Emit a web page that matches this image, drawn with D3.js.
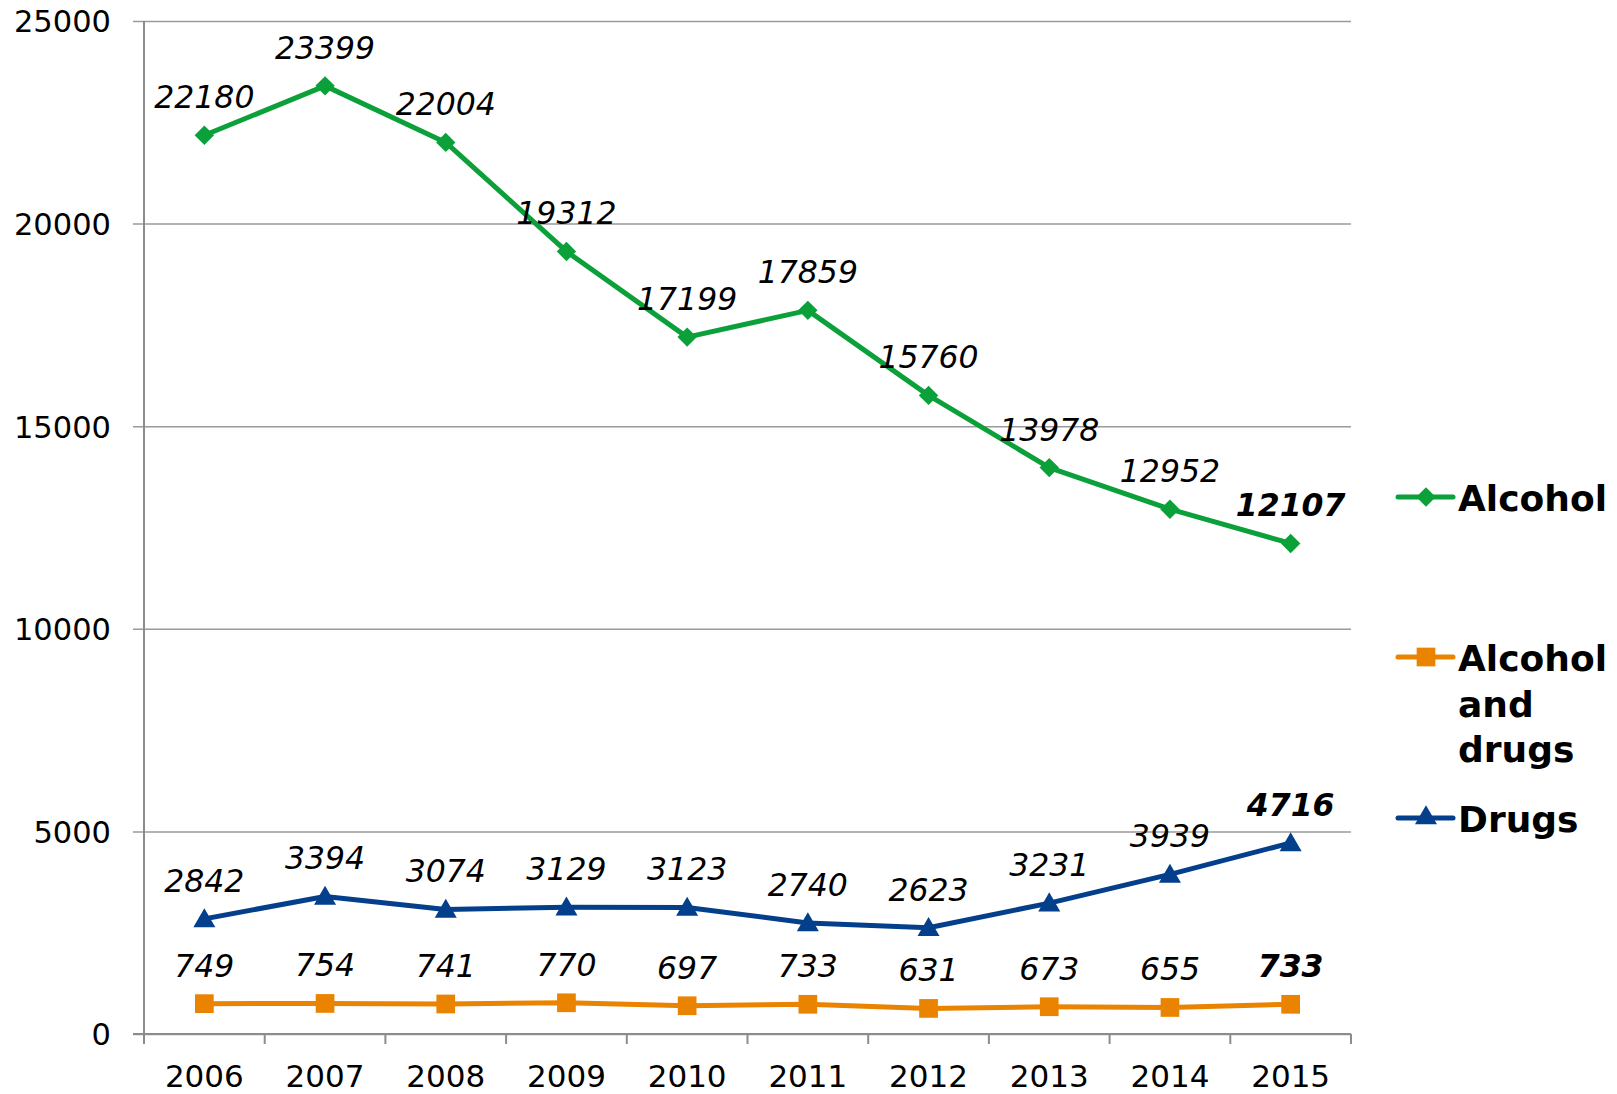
<!DOCTYPE html>
<html>
<head>
<meta charset="utf-8">
<script src="https://cdn.jsdelivr.net/npm/d3@7"></script>
<style>
  body { margin: 0; background: #fff; }
  svg { display: block; font-family: "DejaVu Sans", Verdana, sans-serif; }
</style>
</head>
<body>
<div class="view"></div>
<script>
// data
const years = ['2006', '2007', '2008', '2009', '2010', '2011', '2012', '2013', '2014', '2015']
const alcohol = [22180, 23399, 22004, 19312, 17199, 17859, 15760, 13978, 12952, 12107]
const alcoholDrugs = [749, 754, 741, 770, 697, 733, 631, 673, 655, 733]
const drugs = [2842, 3394, 3074, 3129, 3123, 2740, 2623, 3231, 3939, 4716]
const yTicks = [0, 5000, 10000, 15000, 20000, 25000]

const w = 1617
const h = 1094
const plotLeft = 144, plotRight = 1351, plotTop = 21, plotBottom = 1034
const font = '"DejaVu Sans", Verdana, sans-serif'

const series = [
    { name: 'Alcohol', values: alcohol, color: '#0ca03a', symbol: d3.symbolDiamond2, legendY: 497, lines: ['Alcohol'] },
    { name: 'Alcohol and drugs', values: alcoholDrugs, color: '#ea8300', symbol: d3.symbolSquare, legendY: 657, lines: ['Alcohol', 'and', 'drugs'] },
    { name: 'Drugs', values: drugs, color: '#033f8b', symbol: d3.symbolTriangle, legendY: 818, lines: ['Drugs'] }
]

function symSize(sym) {
    return sym == d3.symbolSquare ? 350 : (sym == d3.symbolTriangle ? 210 : 240)
}

const svg = d3.select('.view')
    .append('svg')
    .attr('width', w)
    .attr('height', h)

const xScale = d3.scaleBand()
    .domain(years)
    .range([plotLeft, plotRight])
    .padding(0)

const yScale = d3.scaleLinear()
    .domain([0, 25000])
    .range([plotBottom, plotTop])

const cx = (i) => xScale(years[i]) + xScale.bandwidth() / 2

// 网格线 + y 轴
const yAxis = d3.axisLeft(yScale).tickValues(yTicks).tickSize(11).tickFormat(d3.format('d'))
const yG = svg.append('g')
    .attr('class', 'y-axis')
    .attr('transform', 'translate(' + plotLeft + ',0)')
    .call(yAxis)
    .attr('font-family', font)
    .attr('font-size', 30.5)
yG.select('.domain').remove()
yG.selectAll('line')
    .attr('x2', plotRight - plotLeft)
    .attr('x1', -11)
    .attr('stroke', '#9a9a9a')
    .attr('stroke-width', 1.5)
yG.selectAll('text')
    .attr('fill', '#000')
    .attr('x', -33)
    .attr('dy', '0.36em')

svg.append('line')
    .attr('x1', plotLeft).attr('x2', plotLeft)
    .attr('y1', plotTop).attr('y2', plotBottom + 10)
    .attr('stroke', '#8c8c8c')
    .attr('stroke-width', 2)

// x 轴
const xAxis = d3.axisBottom(xScale).tickSize(0).tickPadding(42)
const xG = svg.append('g')
    .attr('class', 'x-axis')
    .attr('transform', 'translate(0,' + plotBottom + ')')
    .call(xAxis)
    .attr('font-family', font)
    .attr('font-size', 31)
xG.select('.domain').remove()
xG.selectAll('text')
    .attr('fill', '#000')
    .attr('dy', '0.35em')

svg.append('line')
    .attr('x1', plotLeft - 11).attr('x2', plotRight)
    .attr('y1', plotBottom).attr('y2', plotBottom)
    .attr('stroke', '#8c8c8c')
    .attr('stroke-width', 2)

svg.selectAll('.xtick')
    .data(years.concat(['end']))
    .enter()
    .append('line')
    .attr('class', 'xtick')
    .attr('x1', (d) => d == 'end' ? plotRight : xScale(d))
    .attr('x2', (d) => d == 'end' ? plotRight : xScale(d))
    .attr('y1', plotBottom)
    .attr('y2', plotBottom + 10)
    .attr('stroke', '#8c8c8c')
    .attr('stroke-width', 2)

// 折线
const line = d3.line()
    .x((d, i) => cx(i))
    .y((d) => yScale(d))

series.forEach((s) => {
    const g = svg.append('g').attr('class', 'series')
    g.append('path')
        .attr('d', line(s.values))
        .attr('fill', 'none')
        .attr('stroke', s.color)
        .attr('stroke-width', 5)
        .attr('stroke-linejoin', 'round')

    g.selectAll('path.dot')
        .data(s.values)
        .enter()
        .append('path')
        .attr('class', 'dot')
        .attr('d', d3.symbol().type(s.symbol).size(symSize(s.symbol)))
        .attr('transform', (d, i) => 'translate(' + cx(i) + ',' + (yScale(d) + (s.symbol == d3.symbolTriangle ? 2 : 0)) + ')')
        .attr('fill', s.color)

    g.selectAll('text')
        .data(s.values)
        .enter()
        .append('text')
        .attr('x', (d, i) => cx(i))
        .attr('y', (d) => yScale(d) - 27)
        .attr('text-anchor', 'middle')
        .attr('font-size', 31.5)
        .attr('font-style', 'italic')
        .attr('font-weight', (d, i) => i == s.values.length - 1 ? 'bold' : 'normal')
        .text((d) => d)
})

// 图例
const legend = svg.selectAll('.legend')
    .data(series)
    .enter()
    .append('g')
    .attr('class', 'legend')
    .attr('transform', (d) => 'translate(1398,' + d.legendY + ')')

legend.append('line')
    .attr('x1', 0).attr('x2', 55)
    .attr('stroke', (d) => d.color)
    .attr('stroke-width', 5)
    .attr('stroke-linecap', 'round')

legend.append('path')
    .attr('d', (d) => d3.symbol().type(d.symbol).size(symSize(d.symbol))())
    .attr('transform', 'translate(28,0)')
    .attr('fill', (d) => d.color)

legend.each(function(d) {
    const t = d3.select(this).append('text')
        .attr('x', 60)
        .attr('y', 14)
        .attr('font-size', 36)
        .attr('font-weight', 'bold')
    d.lines.forEach((l, i) => {
        t.append('tspan')
            .attr('x', 60)
            .attr('dy', i == 0 ? 0 : 45.5)
            .text(l)
    })
})
</script>
</body>
</html>
